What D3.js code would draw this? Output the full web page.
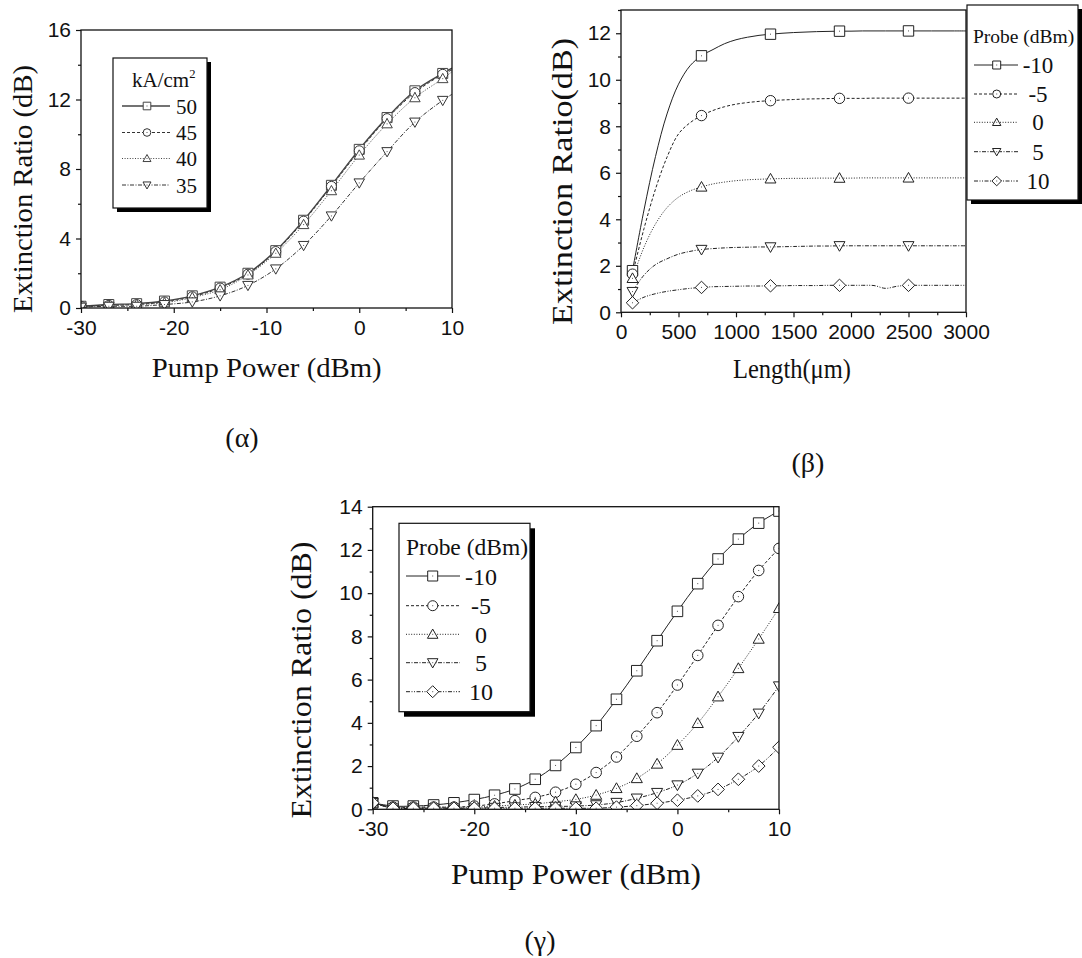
<!DOCTYPE html>
<html><head><meta charset="utf-8">
<script src="https://cdn.jsdelivr.net/npm/d3@7"></script>
<style>body{margin:0;background:#fff}</style>
</head><body>
<svg id="c" width="1082" height="958" xmlns="http://www.w3.org/2000/svg"></svg>
<script>
// ---------------- DATA ----------------
// Panel (α): extinction ratio vs pump power for four current densities
const alphaPump = [-30,-27,-24,-21,-18,-15,-12,-9,-6,-3,0,3,6,9,10];
const alphaMarkerPump = [-30,-27,-24,-21,-18,-15,-12,-9,-6,-3,0,3,6,9];
const alphaLabels = ["50","45","40","35"];
const alpha50 = [0.1,0.2,0.25,0.4,0.7,1.2,2.0,3.3,5.05,7.06,9.13,10.96,12.5,13.5,13.8];
const alpha45 = [0.1,0.15,0.2,0.35,0.65,1.15,1.95,3.25,5.0,7.0,9.05,10.9,12.4,13.45,13.7];
const alpha40 = [0.1,0.15,0.2,0.3,0.6,1.05,1.9,3.15,4.8,6.75,8.8,10.6,12.1,13.2,13.6];
const alpha35 = [0.05,0.1,0.1,0.2,0.35,0.7,1.3,2.25,3.6,5.3,7.2,9.0,10.7,11.95,12.3];
const alphaXTicks = [-30,-20,-10,0,10];
const alphaYTicks = [0,4,8,12,16];

// Panel (β): extinction ratio vs length for five probe powers
const betaLength = [100,200,300,400,500,600,700,800,900,1000,1100,1200,1300,1400,1500,1600,1700,1800,1900,2000,2100,2200,2300,2400,2500,2600,2700,2800,2900,3000];
const betaMarkerLength = [100,700,1300,1900,2500];
const betaLabels = ["-10","-5","0","5","10"];
const betaM10 = [1.79,4.4,6.7,8.53,9.81,10.6,11.03,11.3,11.55,11.72,11.83,11.91,11.96,12.0,12.03,12.05,12.07,12.08,12.09,12.09,12.1,12.1,12.1,12.1,12.1,12.1,12.1,12.1,12.1,12.1];
const betaM5  = [1.64,3.6,5.3,6.67,7.67,8.15,8.46,8.68,8.84,8.95,9.02,9.07,9.1,9.13,9.15,9.17,9.18,9.19,9.2,9.2,9.2,9.21,9.21,9.21,9.21,9.21,9.21,9.21,9.21,9.21];
const beta0   = [1.46,2.8,3.8,4.5,4.95,5.22,5.39,5.52,5.6,5.66,5.7,5.72,5.74,5.75,5.76,5.76,5.77,5.77,5.77,5.77,5.78,5.78,5.78,5.78,5.78,5.78,5.78,5.78,5.78,5.78];
const beta5   = [0.89,1.6,2.05,2.3,2.5,2.62,2.7,2.74,2.77,2.79,2.8,2.81,2.81,2.82,2.83,2.84,2.85,2.85,2.86,2.86,2.86,2.86,2.86,2.86,2.86,2.86,2.86,2.86,2.86,2.86];
const beta10  = [0.41,0.65,0.8,0.9,0.97,1.03,1.07,1.1,1.11,1.12,1.13,1.13,1.14,1.14,1.15,1.15,1.15,1.16,1.16,1.16,1.16,1.15,1.03,1.12,1.16,1.16,1.16,1.16,1.16,1.16];
const betaXTicks = [0,500,1000,1500,2000,2500,3000];
const betaYTicks = [0,2,4,6,8,10,12];

// Panel (γ): extinction ratio vs pump power for five probe powers
const gammaPump = [-30,-28,-26,-24,-22,-20,-18,-16,-14,-12,-10,-8,-6,-4,-2,0,2,4,6,8,10];
const gammaLabels = ["-10","-5","0","5","10"];
const gammaM10 = [0.3,0.15,0.15,0.2,0.3,0.45,0.65,0.94,1.39,2.03,2.86,3.87,5.09,6.41,7.8,9.16,10.44,11.58,12.5,13.24,13.8];
const gammaM5  = [0.3,0.1,0.1,0.1,0.1,0.15,0.25,0.4,0.55,0.79,1.16,1.7,2.42,3.38,4.47,5.75,7.12,8.51,9.84,11.05,12.07];
const gamma0   = [0.3,0.1,0.1,0.1,0.1,0.1,0.15,0.2,0.25,0.35,0.46,0.66,0.97,1.43,2.1,2.97,3.98,5.21,6.52,7.88,9.3];
const gamma5   = [0.3,0.05,0.05,0.05,0.05,0.05,0.08,0.1,0.12,0.13,0.15,0.2,0.31,0.51,0.77,1.12,1.66,2.4,3.36,4.44,5.7];
const gamma10  = [0.3,0.05,0.05,0.05,0.05,0.05,0.05,0.05,0.05,0.05,0.05,0.05,0.1,0.17,0.28,0.42,0.62,0.92,1.39,2.0,2.87];
const gammaXTicks = [-30,-20,-10,0,10];
const gammaYTicks = [0,2,4,6,8,10,12,14];

// ---------------- DRAWING ----------------
const SERIF = "'Liberation Serif','Times New Roman',serif";
const SANS = "'Liberation Sans',Arial,sans-serif";
const svg = d3.select("#c");
const defs = svg.append("defs");

const DASH = {solid: null, dash: "3,2", dot: "1,1.6", dashdot: "4,1.5,1,1.5", dashdotdot: "4,1.5,1,1.5,1,1.5"};

function markerPath(type, r) {
  if (type === "square") return `M${-r},${-r}H${r}V${r}H${-r}Z`;
  if (type === "circle") return `M${-r},0A${r},${r} 0 1,0 ${r},0A${r},${r} 0 1,0 ${-r},0Z`;
  if (type === "up") return `M0,${-1.05*r}L${r*1.05},${0.8*r}L${-r*1.05},${0.8*r}Z`;
  if (type === "down") return `M0,${1.05*r}L${r*1.05},${-0.8*r}L${-r*1.05},${-0.8*r}Z`;
  if (type === "diamond") return `M0,${-1.2*r}L${1.2*r},0L0,${1.2*r}L${-1.2*r},0Z`;
}

function drawMarker(g, type, cx, cy, r, color) {
  g.append("path").attr("d", markerPath(type, r)).attr("transform", `translate(${cx},${cy})`)
    .attr("fill", "#fff").attr("stroke", color).attr("stroke-width", 1);
  g.append("rect").attr("x", cx - 0.5).attr("y", cy - 0.5).attr("width", 1).attr("height", 1).attr("fill", "#555");
}

function panel(cfg) {
  const x = d3.scaleLinear().domain(cfg.xDomain).range([cfg.left, cfg.right]);
  const y = d3.scaleLinear().domain(cfg.yDomain).range([cfg.bottom, cfg.top]);
  const g = svg.append("g");
  const clipId = "clip-" + cfg.name;
  defs.append("clipPath").attr("id", clipId).append("rect")
    .attr("x", cfg.left).attr("y", cfg.top).attr("width", cfg.right - cfg.left).attr("height", cfg.bottom - cfg.top);

  // series
  const data = g.append("g").attr("clip-path", `url(#${clipId})`);
  cfg.series.forEach(s => {
    const pts = cfg.xs.map((xv, i) => [xv, s.values[i]]);
    data.append("path")
      .attr("d", d3.line().x(d => x(d[0])).y(d => y(d[1])).curve(d3.curveCatmullRom.alpha(0.5))(pts))
      .attr("fill", "none").attr("stroke", s.color || "#222").attr("stroke-width", s.width || 1)
      .attr("stroke-dasharray", DASH[s.dash]);
  });
  cfg.series.forEach(s => {
    cfg.xs.forEach((xv, i) => {
      if (cfg.markerXs.includes(xv)) drawMarker(data, s.marker, x(xv), y(s.values[i]), cfg.markerR, s.color || "#222");
    });
  });

  // frame
  g.append("rect").attr("x", cfg.left).attr("y", cfg.top)
    .attr("width", cfg.right - cfg.left).attr("height", cfg.bottom - cfg.top)
    .attr("fill", "none").attr("stroke", "#111").attr("stroke-width", 1.3);

  const fmt = d => String(d);
  // minor ticks
  g.append("g").attr("transform", `translate(0,${cfg.bottom})`)
    .call(d3.axisBottom(x).tickValues(cfg.xMinor).tickSize(3).tickFormat(""))
    .call(a => a.select(".domain").remove());
  g.append("g").attr("transform", `translate(${cfg.left},0)`)
    .call(d3.axisLeft(y).tickValues(cfg.yMinor).tickSize(3).tickFormat(""))
    .call(a => a.select(".domain").remove());
  // major ticks + labels
  const xa = g.append("g").attr("transform", `translate(0,${cfg.bottom})`)
    .call(d3.axisBottom(x).tickValues(cfg.xTicks).tickSize(5).tickPadding(7).tickFormat(fmt));
  const ya = g.append("g").attr("transform", `translate(${cfg.left},0)`)
    .call(d3.axisLeft(y).tickValues(cfg.yTicks).tickSize(5).tickPadding(5).tickFormat(fmt));
  [xa, ya].forEach(a => {
    a.select(".domain").remove();
    a.selectAll("text").attr("font-family", SANS).attr("font-size", cfg.tickFont).attr("fill", "#111");
  });
  g.selectAll(".tick line").attr("stroke", "#111").attr("stroke-width", 1.2);

  // axis titles
  g.append("text").attr("transform", `translate(${cfg.yTitle.x},${cfg.yTitle.y}) rotate(-90)`)
    .attr("text-anchor", "middle").attr("font-family", SERIF).attr("font-size", cfg.yTitle.size)
    .attr("textLength", cfg.yTitle.len).attr("lengthAdjust", "spacingAndGlyphs")
    .attr("fill", "#111").text(cfg.yTitle.text);
  g.append("text").attr("x", cfg.xTitle.x).attr("y", cfg.xTitle.y)
    .attr("text-anchor", "middle").attr("font-family", SERIF).attr("font-size", cfg.xTitle.size)
    .attr("textLength", cfg.xTitle.len).attr("lengthAdjust", "spacingAndGlyphs")
    .attr("fill", "#111").text(cfg.xTitle.text);
  g.append("text").attr("x", cfg.tag.x).attr("y", cfg.tag.y).attr("text-anchor", "middle")
    .attr("font-family", SERIF).attr("font-size", 28).attr("fill", "#111").text(cfg.tag.text);

  // legend
  const L = cfg.legend;
  const lg = g.append("g");
  lg.append("rect").attr("x", L.x + L.shadow).attr("y", L.y + L.shadow).attr("width", L.w).attr("height", L.h).attr("fill", "#000");
  lg.append("rect").attr("x", L.x).attr("y", L.y).attr("width", L.w).attr("height", L.h)
    .attr("fill", "#fff").attr("stroke", "#111").attr("stroke-width", 1.2);
  const tt = lg.append("text").attr("x", L.titleX).attr("y", L.titleY).attr("font-family", SERIF)
    .attr("font-size", L.titleSize).attr("fill", "#111");
  if (L.titleLen) tt.attr("textLength", L.titleLen).attr("lengthAdjust", "spacingAndGlyphs");
  if (L.titleSup) {
    tt.append("tspan").text(L.title);
    tt.append("tspan").attr("font-size", L.titleSize * 0.6).attr("dy", -9).text(L.titleSup);
  } else tt.text(L.title);
  cfg.series.forEach((s, i) => {
    const ry = L.rowY[i];
    lg.append("line").attr("x1", L.lineX1).attr("x2", L.lineX2).attr("y1", ry).attr("y2", ry)
      .attr("stroke", s.color || "#222").attr("stroke-width", s.width || 1).attr("stroke-dasharray", DASH[s.dash]);
    drawMarker(lg, s.marker, L.markX, ry, L.markR, s.color || "#222");
    lg.append("text").attr("x", L.labelX).attr("y", ry + L.labelDy).attr("text-anchor", L.anchor)
      .attr("font-family", SERIF).attr("font-size", L.labelSize).attr("fill", "#111").text(s.label);
  });
}

function range(a, b, s) { const r = []; for (let v = a; v <= b + 1e-9; v += s) r.push(v); return r; }

// (α)
panel({
  name: "a", left: 81, right: 452, top: 30, bottom: 308,
  xDomain: [-30, 10], yDomain: [0, 16],
  xTicks: alphaXTicks, yTicks: alphaYTicks, xMinor: range(-25, 5, 10), yMinor: range(2, 14, 4),
  tickFont: 21, xs: alphaPump, markerXs: alphaMarkerPump, markerR: 5,
  series: [
    {label: alphaLabels[0], values: alpha50, marker: "square", dash: "solid", color: "#444", width: 1.4},
    {label: alphaLabels[1], values: alpha45, marker: "circle", dash: "dash", color: "#333"},
    {label: alphaLabels[2], values: alpha40, marker: "up", dash: "dot", color: "#444"},
    {label: alphaLabels[3], values: alpha35, marker: "down", dash: "dashdot", color: "#333"}
  ],
  yTitle: {text: "Extinction Ratio (dB)", x: 31.5, y: 189, size: 28, len: 248},
  xTitle: {text: "Pump Power (dBm)", x: 266.7, y: 376.7, size: 28, len: 230},
  tag: {text: "(α)", x: 242, y: 447},
  legend: {x: 113, y: 58, w: 94, h: 150, shadow: 4, title: "kA/cm", titleSup: "2", titleX: 132, titleY: 87, titleSize: 21,
    rowY: [106, 132.5, 158.5, 185], lineX1: 122, lineX2: 170, markX: 147, markR: 3.8, labelX: 176, labelDy: 7.5,
    anchor: "start", labelSize: 21}
});

// (β)
panel({
  name: "b", left: 621, right: 966, top: 10, bottom: 312.3,
  xDomain: [0, 3000], yDomain: [0, 13],
  xTicks: betaXTicks, yTicks: betaYTicks, xMinor: range(250, 2750, 500), yMinor: range(1, 13, 2),
  tickFont: 21, xs: betaLength, markerXs: betaMarkerLength, markerR: 5.2,
  series: [
    {label: betaLabels[0], values: betaM10, marker: "square", dash: "solid"},
    {label: betaLabels[1], values: betaM5, marker: "circle", dash: "dash"},
    {label: betaLabels[2], values: beta0, marker: "up", dash: "dot"},
    {label: betaLabels[3], values: beta5, marker: "down", dash: "dashdot"},
    {label: betaLabels[4], values: beta10, marker: "diamond", dash: "dashdotdot"}
  ],
  yTitle: {text: "Extinction Ratio(dB)", x: 571.5, y: 181.5, size: 30, len: 287},
  xTitle: {text: "Length(\u03bcm)", x: 792, y: 378, size: 28, len: 118},
  tag: {text: "(\u03b2)", x: 808, y: 472},
  legend: {x: 967, y: 5, w: 111, h: 195, shadow: 4, title: "Probe (dBm)", titleX: 973, titleY: 43, titleSize: 19.5,
    rowY: [65, 94, 122.3, 151.7, 181], lineX1: 974, lineX2: 1018, markX: 996.7, markR: 4, labelX: 1038, labelDy: 8,
    anchor: "middle", labelSize: 23}
});

// (γ)
panel({
  name: "g", left: 372.7, right: 779, top: 506.7, bottom: 809.3,
  xDomain: [-30, 10], yDomain: [0, 14],
  xTicks: gammaXTicks, yTicks: gammaYTicks, xMinor: range(-25, 5, 10), yMinor: range(1, 13, 2),
  tickFont: 21, xs: gammaPump, markerXs: gammaPump, markerR: 5.3,
  series: [
    {label: gammaLabels[0], values: gammaM10, marker: "square", dash: "solid"},
    {label: gammaLabels[1], values: gammaM5, marker: "circle", dash: "dash"},
    {label: gammaLabels[2], values: gamma0, marker: "up", dash: "dot"},
    {label: gammaLabels[3], values: gamma5, marker: "down", dash: "dashdot"},
    {label: gammaLabels[4], values: gamma10, marker: "diamond", dash: "dashdotdot"}
  ],
  yTitle: {text: "Extinction Ratio (dB)", x: 311, y: 680, size: 30, len: 277},
  xTitle: {text: "Pump Power (dBm)", x: 576, y: 884, size: 30, len: 250},
  tag: {text: "(\u03b3)", x: 540, y: 950},
  legend: {x: 399, y: 523.3, w: 131, h: 188.4, shadow: 5, title: "Probe (dBm)", titleX: 406, titleY: 555, titleSize: 24, titleLen: 122,
    rowY: [576, 605.7, 634.3, 662.7, 691.7], lineX1: 406, lineX2: 460, markX: 432.7, markR: 5, labelX: 481, labelDy: 8.5,
    anchor: "middle", labelSize: 24}
});
</script>
</body></html>
